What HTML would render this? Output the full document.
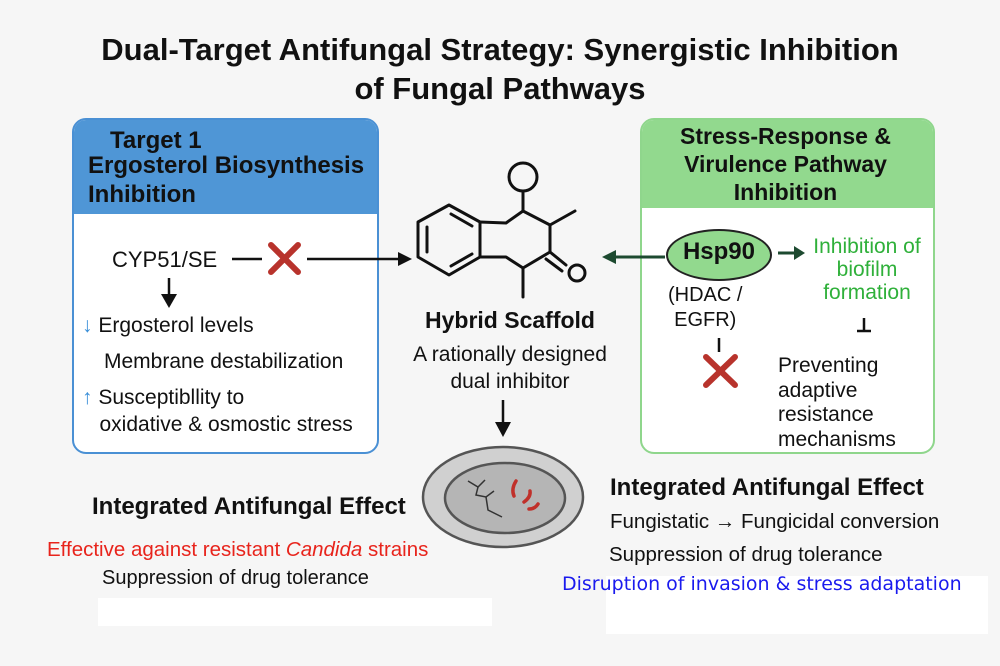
<!DOCTYPE html>
<html><head><meta charset="utf-8"><style>
body{margin:0;width:1000px;height:666px;background:#f6f6f6;position:relative;overflow:hidden;font-family:"Liberation Sans",sans-serif;color:#111}
.a{position:absolute;white-space:nowrap}
.b{font-weight:bold}
</style></head><body>
<div class="a b" style="left:0;width:1000px;text-align:center;top:30px;font-size:31px;line-height:39px">Dual-Target Antifungal Strategy: Synergistic Inhibition<br>of Fungal Pathways</div>

<!-- left box -->
<div class="a" style="left:72px;top:118px;width:303px;height:332px;border:2px solid #4a90d4;border-radius:14px;background:#fff;overflow:hidden">
<div style="height:94px;background:#4f96d6"></div></div>
<div class="a b" style="left:110px;top:127px;font-size:24px">Target 1</div>
<div class="a b" style="left:88px;top:151px;font-size:24px;line-height:29px">Ergosterol Biosynthesis<br>Inhibition</div>
<div class="a" style="left:112px;top:247px;font-size:22px">CYP51/SE</div>
<div class="a" style="left:82px;top:314px;font-size:21px"><span style="color:#3a8fd8">↓</span> Ergosterol levels</div>
<div class="a" style="left:104px;top:350px;font-size:21px">Membrane destabilization</div>
<div class="a" style="left:82px;top:384px;font-size:21px;line-height:27px"><span style="color:#3a8fd8">↑</span> Susceptibllity to<br>&nbsp;&nbsp;&nbsp;oxidative &amp; osmostic stress</div>

<!-- right box -->
<div class="a" style="left:640px;top:118px;width:291px;height:332px;border:2px solid #8fd68c;border-radius:14px;background:#fff;overflow:hidden">
<div style="height:88px;background:#92d98e"></div></div>
<div class="a b" style="left:638px;width:295px;text-align:center;top:122px;font-size:23px;line-height:28px">Stress-Response &amp;<br>Virulence Pathway<br>Inhibition</div>
<div class="a" style="left:666px;top:229px;width:102px;height:48px;border:2px solid #222;border-radius:50%;background:#92d98e"></div>
<div class="a b" style="left:666px;width:106px;text-align:center;top:238px;font-size:24px">Hsp90</div>
<div class="a" style="left:668px;top:283px;font-size:20px;line-height:25px;text-align:center">(HDAC /<br>EGFR)</div>
<div class="a" style="left:806px;top:235px;font-size:21px;line-height:23px;color:#2fb03a;text-align:center;width:122px">Inhibition of<br>biofilm<br>formation</div>
<div class="a" style="left:778px;top:354px;font-size:21px;line-height:24.5px">Preventing<br>adaptive<br>resistance<br>mechanisms</div>

<!-- center -->
<div class="a b" style="left:390px;width:240px;text-align:center;top:307px;font-size:23px">Hybrid Scaffold</div>
<div class="a" style="left:370px;width:280px;text-align:center;top:341px;font-size:21px;line-height:27px">A rationally designed<br>dual inhibitor</div>

<!-- bottom -->
<div class="a" style="left:98px;top:598px;width:394px;height:28px;background:#fff"></div>
<div class="a" style="left:606px;top:576px;width:382px;height:58px;background:#fff"></div>
<div class="a b" style="left:92px;top:493px;font-size:24px">Integrated Antifungal Effect</div>
<div class="a" style="left:47px;top:538px;font-size:20.5px;color:#e8241c">Effective against resistant <i>Candida</i> strains</div>
<div class="a" style="left:102px;top:567px;font-size:20px">Suppression of drug tolerance</div>
<div class="a b" style="left:610px;top:474px;font-size:24px">Integrated Antifungal Effect</div>
<div class="a" style="left:610px;top:510px;font-size:20.5px">Fungistatic → Fungicidal conversion</div>
<div class="a" style="left:609px;top:543px;font-size:20.5px">Suppression of drug tolerance</div>
<div class="a" style="left:562px;top:573px;font-size:19px;color:#1a1aee;font-family:'DejaVu Sans',sans-serif">Disruption of invasion &amp; stress adaptation</div>

<svg class="a" style="left:0;top:0" width="1000" height="666">
<g stroke="#111" stroke-width="3" fill="none" stroke-linecap="round" stroke-linejoin="round">
<polygon points="418,222 449,205 480,222 480,257 449,275 418,257"/>
<line x1="427" y1="227" x2="427" y2="252"/><line x1="451" y1="214" x2="472" y2="226"/><line x1="451" y1="266" x2="472" y2="254"/>
<polyline points="480,222 506,223 523,211 550,225 550,252 523,268 506,257 480,257"/>
<line x1="523" y1="211" x2="523" y2="192"/><circle cx="523" cy="177" r="14"/>
<line x1="550" y1="225" x2="575" y2="211"/><line x1="523" y1="268" x2="523" y2="297"/>
<line x1="550" y1="252" x2="566" y2="265"/><line x1="546" y1="259" x2="562" y2="271"/>
<circle cx="577" cy="273" r="8"/>
</g>
<g stroke="#111" stroke-width="2.5">
<line x1="232" y1="259" x2="262" y2="259"/><line x1="307" y1="259" x2="398" y2="259"/>
<line x1="169" y1="278" x2="169" y2="296"/><line x1="503" y1="400" x2="503" y2="425"/>
<line x1="719" y1="338" x2="719" y2="352"/>
<line x1="864" y1="318" x2="864" y2="330"/><line x1="857" y1="331" x2="871" y2="331"/>
</g>
<polygon points="398,252 412,259 398,266" fill="#111"/>
<polygon points="161,294 177,294 169,308" fill="#111"/>
<polygon points="495,422 511,422 503,437" fill="#111"/>
<g stroke="#b8332c" stroke-width="6" stroke-linecap="round">
<line x1="271" y1="245" x2="298" y2="272"/><line x1="298" y1="245" x2="271" y2="272"/>
<line x1="706" y1="357" x2="735" y2="385"/><line x1="735" y1="357" x2="706" y2="385"/>
</g>
<g stroke="#1d4a30" stroke-width="3">
<line x1="612" y1="257" x2="665" y2="257"/><line x1="778" y1="253" x2="795" y2="253"/>
</g>
<polygon points="602,257 616,250 616,264" fill="#1d4a30"/>
<polygon points="794,246 805,253 794,260" fill="#1d4a30"/>
<ellipse cx="503" cy="497" rx="80" ry="50" fill="#d0d0d0" stroke="#555" stroke-width="2.5"/>
<ellipse cx="505" cy="498" rx="60" ry="35" fill="#b5b5b5" stroke="#555" stroke-width="2.5"/>
<g stroke="#333" stroke-width="1.5" fill="none"><polyline points="468,481 478,487 485,480"/><polyline points="478,487 476,495 486,497 494,491"/><polyline points="486,497 488,510 502,517"/></g>
<g stroke="#c0302a" stroke-width="3.5" fill="none" stroke-linecap="round"><path d="M516,481 q-5,8 -2,15"/><path d="M530,491 q1,6 -6,11"/><path d="M538,504 q-3,5 -9,5"/></g>
</svg>
</body></html>
